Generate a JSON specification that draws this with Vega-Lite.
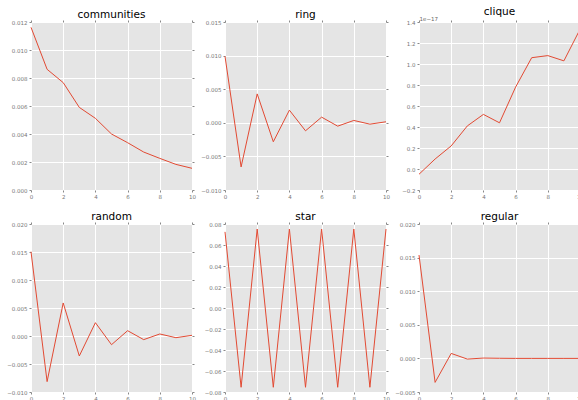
{
  "$schema": "https://vega.github.io/schema/vega-lite/v6.json",
  "autosize": {"type": "pad"},
  "padding": {"left": 6, "top": 6, "right": 0, "bottom": 0},
  "background": "white",
  "datasets": {
    "d": [
      {"g":"communities","x":0,"y":0.01162},{"g":"communities","x":1,"y":0.00862},{"g":"communities","x":2,"y":0.00767},{"g":"communities","x":3,"y":0.0059},{"g":"communities","x":4,"y":0.00512},{"g":"communities","x":5,"y":0.004},{"g":"communities","x":6,"y":0.00338},{"g":"communities","x":7,"y":0.00271},{"g":"communities","x":8,"y":0.00226},{"g":"communities","x":9,"y":0.00183},{"g":"communities","x":10,"y":0.00155},
      {"g":"ring","x":0,"y":0.0099},{"g":"ring","x":1,"y":-0.00657},{"g":"ring","x":2,"y":0.0043},{"g":"ring","x":3,"y":-0.00282},{"g":"ring","x":4,"y":0.00188},{"g":"ring","x":5,"y":-0.00119},{"g":"ring","x":6,"y":0.00084},{"g":"ring","x":7,"y":-0.0005},{"g":"ring","x":8,"y":0.00035},{"g":"ring","x":9,"y":-0.0002},{"g":"ring","x":10,"y":0.00015},
      {"g":"clique","x":0,"y":-5e-19},{"g":"clique","x":1,"y":9.5e-19},{"g":"clique","x":2,"y":2.2e-18},{"g":"clique","x":3,"y":4.1e-18},{"g":"clique","x":4,"y":5.2e-18},{"g":"clique","x":5,"y":4.4e-18},{"g":"clique","x":6,"y":7.8e-18},{"g":"clique","x":7,"y":1.06e-17},{"g":"clique","x":8,"y":1.08e-17},{"g":"clique","x":9,"y":1.03e-17},{"g":"clique","x":10,"y":1.33e-17},
      {"g":"random","x":0,"y":0.01506},{"g":"random","x":1,"y":-0.00815},{"g":"random","x":2,"y":0.0059},{"g":"random","x":3,"y":-0.00357},{"g":"random","x":4,"y":0.00238},{"g":"random","x":5,"y":-0.00155},{"g":"random","x":6,"y":0.00095},{"g":"random","x":7,"y":-0.00065},{"g":"random","x":8,"y":0.00036},{"g":"random","x":9,"y":-0.0003},{"g":"random","x":10,"y":0.00012},
      {"g":"star","x":0,"y":0.0725},{"g":"star","x":1,"y":-0.0755},{"g":"star","x":2,"y":0.0752},{"g":"star","x":3,"y":-0.0755},{"g":"star","x":4,"y":0.0752},{"g":"star","x":5,"y":-0.0755},{"g":"star","x":6,"y":0.0752},{"g":"star","x":7,"y":-0.0755},{"g":"star","x":8,"y":0.0752},{"g":"star","x":9,"y":-0.0755},{"g":"star","x":10,"y":0.0752},
      {"g":"regular","x":0,"y":0.01538},{"g":"regular","x":1,"y":-0.00357},{"g":"regular","x":2,"y":0.00074},{"g":"regular","x":3,"y":-0.0001},{"g":"regular","x":4,"y":0.00005},{"g":"regular","x":5,"y":0.00002},{"g":"regular","x":6,"y":0},{"g":"regular","x":7,"y":0},{"g":"regular","x":8,"y":0},{"g":"regular","x":9,"y":0},{"g":"regular","x":10,"y":0}
    ]
  },
  "data": {"name": "d"},
  "columns": 3,
  "bounds": "flush",
  "spacing": {"column": 33, "row": 34},
  "resolve": {"scale": {"x": "independent", "y": "independent"}},
  "concat": [
    {
      "title": "communities", "width": 161, "height": 168,
      "transform": [{"filter": "datum.g === 'communities'"}],
      "resolve": {"axis": {"x": "independent", "y": "independent"}},
      "layer": [
        {"mark": {"type": "line"},
         "encoding": {
          "x": {"field": "x", "type": "quantitative", "scale": {"domain": [0, 10], "nice": false}, "axis": {"values": [0,2,4,6,8,10]}},
          "y": {"field": "y", "type": "quantitative", "scale": {"domain": [0, 0.012], "nice": false}, "axis": {"values": [0,0.002,0.004,0.006,0.008,0.010,0.012], "format": ".3f"}}}},
        {"mark": {"type": "line", "opacity": 0},
         "encoding": {
          "x": {"field": "x", "type": "quantitative", "axis": {"orient": "top", "labels": false, "grid": false, "minExtent": 0, "maxExtent": 0, "values": [0,2,4,6,8,10]}},
          "y": {"field": "y", "type": "quantitative", "axis": {"orient": "right", "labels": false, "grid": false, "minExtent": 0, "maxExtent": 0, "values": [0,0.002,0.004,0.006,0.008,0.010,0.012]}}}}
      ]
    },
    {
      "title": "ring", "width": 161, "height": 168,
      "transform": [{"filter": "datum.g === 'ring'"}],
      "resolve": {"axis": {"x": "independent", "y": "independent"}},
      "layer": [
        {"mark": {"type": "line"},
         "encoding": {
          "x": {"field": "x", "type": "quantitative", "scale": {"domain": [0, 10], "nice": false}, "axis": {"values": [0,2,4,6,8,10]}},
          "y": {"field": "y", "type": "quantitative", "scale": {"domain": [-0.01, 0.015], "nice": false}, "axis": {"values": [-0.01,-0.005,0,0.005,0.01,0.015], "format": ".3f"}}}},
        {"mark": {"type": "line", "opacity": 0},
         "encoding": {
          "x": {"field": "x", "type": "quantitative", "axis": {"orient": "top", "labels": false, "grid": false, "minExtent": 0, "maxExtent": 0, "values": [0,2,4,6,8,10]}},
          "y": {"field": "y", "type": "quantitative", "axis": {"orient": "right", "labels": false, "grid": false, "minExtent": 0, "maxExtent": 0, "values": [-0.01,-0.005,0,0.005,0.01,0.015]}}}}
      ]
    },
    {
      "title": "clique", "width": 161, "height": 168,
      "transform": [{"filter": "datum.g === 'clique'"}],
      "resolve": {"axis": {"x": "independent", "y": "independent"}},
      "layer": [
        {"mark": {"type": "line", "clip": true},
         "encoding": {
          "x": {"field": "x", "type": "quantitative", "scale": {"domain": [0, 10], "nice": false}, "axis": {"values": [0,2,4,6,8,10]}},
          "y": {"field": "y", "type": "quantitative", "scale": {"domain": [-2e-18, 1.4e-17], "nice": false}, "axis": {"values": [-2e-18,0,2e-18,4e-18,6e-18,8e-18,1e-17,1.2e-17,1.4e-17], "labelExpr": "format(datum.value * 1e17, '.1f')", "title": "1e−17", "titleAngle": 0, "titleX": 0, "titleY": -1, "titleAlign": "left", "titleBaseline": "bottom", "titleFontSize": 5.5, "titleFontWeight": "normal", "titleColor": "#666666", "titleFont": "DejaVu Sans"}}}},
        {"mark": {"type": "line", "opacity": 0},
         "encoding": {
          "x": {"field": "x", "type": "quantitative", "axis": {"orient": "top", "labels": false, "grid": false, "minExtent": 0, "maxExtent": 0, "values": [0,2,4,6,8,10]}},
          "y": {"field": "y", "type": "quantitative", "axis": {"orient": "right", "labels": false, "grid": false, "minExtent": 0, "maxExtent": 0, "values": [-2e-18,0,2e-18,4e-18,6e-18,8e-18,1e-17,1.2e-17,1.4e-17]}}}}
      ]
    },
    {
      "title": "random", "width": 161, "height": 168,
      "transform": [{"filter": "datum.g === 'random'"}],
      "resolve": {"axis": {"x": "independent", "y": "independent"}},
      "layer": [
        {"mark": {"type": "line"},
         "encoding": {
          "x": {"field": "x", "type": "quantitative", "scale": {"domain": [0, 10], "nice": false}, "axis": {"values": [0,2,4,6,8,10]}},
          "y": {"field": "y", "type": "quantitative", "scale": {"domain": [-0.01, 0.02], "nice": false}, "axis": {"values": [-0.01,-0.005,0,0.005,0.01,0.015,0.02], "format": ".3f"}}}},
        {"mark": {"type": "line", "opacity": 0},
         "encoding": {
          "x": {"field": "x", "type": "quantitative", "axis": {"orient": "top", "labels": false, "grid": false, "minExtent": 0, "maxExtent": 0, "values": [0,2,4,6,8,10]}},
          "y": {"field": "y", "type": "quantitative", "axis": {"orient": "right", "labels": false, "grid": false, "minExtent": 0, "maxExtent": 0, "values": [-0.01,-0.005,0,0.005,0.01,0.015,0.02]}}}}
      ]
    },
    {
      "title": "star", "width": 161, "height": 168,
      "transform": [{"filter": "datum.g === 'star'"}],
      "resolve": {"axis": {"x": "independent", "y": "independent"}},
      "layer": [
        {"mark": {"type": "line"},
         "encoding": {
          "x": {"field": "x", "type": "quantitative", "scale": {"domain": [0, 10], "nice": false}, "axis": {"values": [0,2,4,6,8,10]}},
          "y": {"field": "y", "type": "quantitative", "scale": {"domain": [-0.08, 0.08], "nice": false}, "axis": {"values": [-0.08,-0.06,-0.04,-0.02,0,0.02,0.04,0.06,0.08], "format": ".2f"}}}},
        {"mark": {"type": "line", "opacity": 0},
         "encoding": {
          "x": {"field": "x", "type": "quantitative", "axis": {"orient": "top", "labels": false, "grid": false, "minExtent": 0, "maxExtent": 0, "values": [0,2,4,6,8,10]}},
          "y": {"field": "y", "type": "quantitative", "axis": {"orient": "right", "labels": false, "grid": false, "minExtent": 0, "maxExtent": 0, "values": [-0.08,-0.06,-0.04,-0.02,0,0.02,0.04,0.06,0.08]}}}}
      ]
    },
    {
      "title": "regular", "width": 161, "height": 168,
      "transform": [{"filter": "datum.g === 'regular'"}],
      "resolve": {"axis": {"x": "independent", "y": "independent"}},
      "layer": [
        {"mark": {"type": "line"},
         "encoding": {
          "x": {"field": "x", "type": "quantitative", "scale": {"domain": [0, 10], "nice": false}, "axis": {"values": [0,2,4,6,8,10]}},
          "y": {"field": "y", "type": "quantitative", "scale": {"domain": [-0.005, 0.02], "nice": false}, "axis": {"values": [-0.005,0,0.005,0.01,0.015,0.02], "format": ".3f"}}}},
        {"mark": {"type": "line", "opacity": 0},
         "encoding": {
          "x": {"field": "x", "type": "quantitative", "axis": {"orient": "top", "labels": false, "grid": false, "minExtent": 0, "maxExtent": 0, "values": [0,2,4,6,8,10]}},
          "y": {"field": "y", "type": "quantitative", "axis": {"orient": "right", "labels": false, "grid": false, "minExtent": 0, "maxExtent": 0, "values": [-0.005,0,0.005,0.01,0.015,0.02]}}}}
      ]
    }
  ],
  "config": {
    "view": {"fill": "#E5E5E5", "stroke": null},
    "axis": {
      "grid": true, "gridColor": "#FFFFFF", "gridWidth": 1, "gridOpacity": 1,
      "domain": false, "ticks": true, "tickColor": "#888888", "tickSize": 2,
      "labelFontSize": 5.5, "labelColor": "#777777", "labelFont": "DejaVu Sans",
      "labelPadding": 2, "labelFlush": false, "labelOverlap": false, "title": null
    },
    "title": {"fontSize": 10.5, "font": "DejaVu Sans", "fontWeight": "normal", "color": "#000000", "offset": -1, "baseline": "alphabetic", "anchor": "middle"},
    "line": {"color": "#E24A33", "strokeWidth": 1}
  }
}
